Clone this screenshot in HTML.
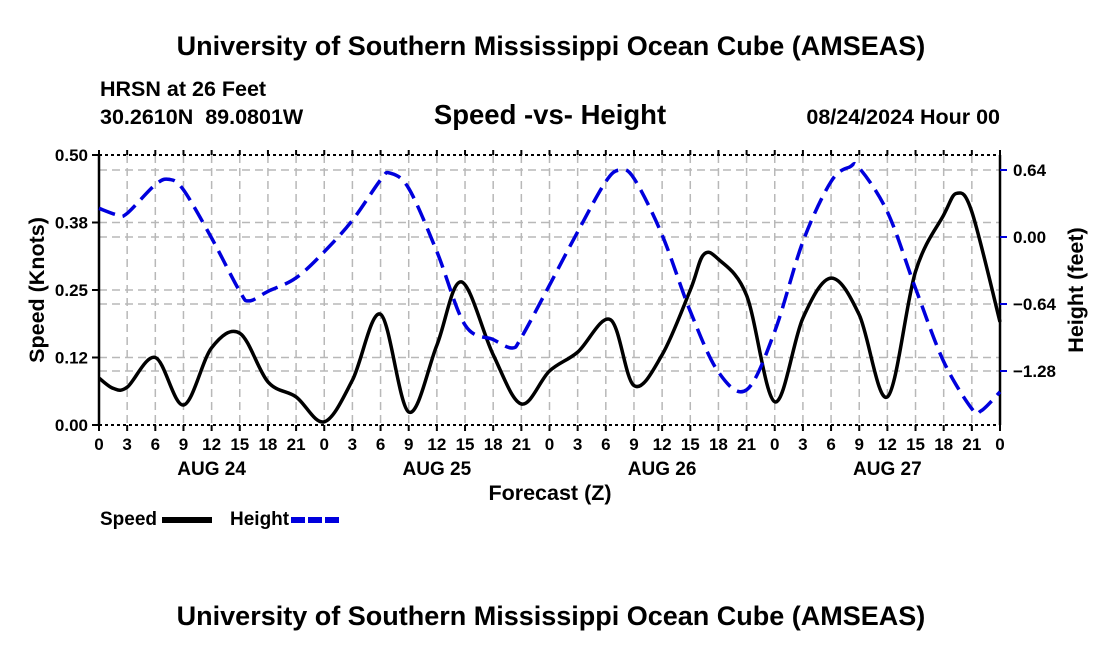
<!DOCTYPE html>
<html><head><meta charset="utf-8"><style>
html,body{margin:0;padding:0;background:#fff;}
svg{display:block;font-family:"Liberation Sans",Arial,sans-serif;font-weight:bold;}
</style></head><body>
<svg id="chart" width="1100" height="650" viewBox="0 0 1100 650" xmlns="http://www.w3.org/2000/svg">
<rect width="1100" height="650" fill="#fff"/>
<text x="551" y="55" font-size="27" text-anchor="middle">University of Southern Mississippi Ocean Cube (AMSEAS)</text>
<text x="100" y="96" font-size="21.5">HRSN at 26 Feet</text>
<text x="100" y="124" font-size="21.5">30.2610N&#160;&#160;89.0801W</text>
<text x="550" y="124" font-size="27.5" text-anchor="middle">Speed -vs- Height</text>
<text x="1000" y="124" font-size="21.5" text-anchor="end">08/24/2024 Hour 00</text>
<text transform="translate(44,290) rotate(-90)" font-size="21.5" text-anchor="middle">Speed (Knots)</text>
<text transform="translate(1083,290) rotate(-90)" font-size="21.5" text-anchor="middle">Height (feet)</text>
<text x="550" y="500" font-size="21.5" text-anchor="middle">Forecast (Z)</text>
<text x="551" y="625" font-size="27" text-anchor="middle">University of Southern Mississippi Ocean Cube (AMSEAS)</text>
<g>
<text x="100" y="525" font-size="19">Speed</text>
<line x1="162" y1="520" x2="212" y2="520" stroke="#000" stroke-width="6"/>
<text x="230" y="525" font-size="19">Height</text>
<line x1="291" y1="520" x2="342" y2="520" stroke="#0000dd" stroke-width="6" stroke-dasharray="14,3"/>
</g>
<g id="grid"></g><g id="axes"></g><g id="series"></g>
</svg>
<script>
const hours=[0,2,3,6,7.5,9,12,15,16,18,21,24,27,30,31,33,36,39,42,44,45,48,51,54,55.5,57,60,63,66,69,72,75,78,80,81,84,87,90,93,94,96];
const heightVals=[0.274,0.21,0.226,0.50,0.55,0.45,-0.01,-0.52,-0.61,-0.52,-0.39,-0.14,0.16,0.545,0.61,0.465,-0.14,-0.84,-0.98,-1.06,-0.96,-0.46,0.05,0.53,0.64,0.56,0.02,-0.71,-1.29,-1.46,-0.90,-0.045,0.53,0.67,0.66,0.24,-0.49,-1.19,-1.64,-1.66,-1.48];
const speedHours=[0,1.5,3,6,9,12,15,18,21,24,27,30,33,36,38.6,42,45,48,51,54.5,57,60,63,64.4,66,69,72,75,78,81,84,87,90,91.4,93,96];
const speedVals=[0.087,0.068,0.070,0.125,0.037,0.143,0.170,0.080,0.052,0.006,0.083,0.205,0.024,0.148,0.265,0.130,0.039,0.10,0.135,0.195,0.073,0.130,0.250,0.315,0.307,0.240,0.043,0.198,0.272,0.204,0.052,0.284,0.389,0.429,0.395,0.191];
const speedTicks=[0,0.125,0.25,0.375,0.5];
const speedTickLabels=["0.00","0.12","0.25","0.38","0.50"];
const heightTicks=[0.64,0,-0.64,-1.28];
const heightTickLabels=["0.64","0.00","\u22120.64","\u22121.28"];
const xTickHours=[0,3,6,9,12,15,18,21,24,27,30,33,36,39,42,45,48,51,54,57,60,63,66,69,72,75,78,81,84,87,90,93,96];
const dayLabels=["AUG 24","AUG 25","AUG 26","AUG 27"];

const X0=99,X1=1000,Y0=155,Y1=425;
const xs=h=>X0+h*(X1-X0)/96;
const ys=s=>Y1-s*(Y1-Y0)/0.5;
const yh=v=>237-v*(304-237)/0.64;
const NS="http://www.w3.org/2000/svg";
function mk(tag,attrs,parent){const e=document.createElementNS(NS,tag);for(const k in attrs)e.setAttribute(k,attrs[k]);parent.appendChild(e);return e;}
const grid=document.getElementById('grid'),axes=document.getElementById('axes'),series=document.getElementById('series');
const gs={stroke:"#b8b8b8","stroke-width":1.5,"stroke-dasharray":"8,5",fill:"none"};
xTickHours.forEach(h=>{if(h>0&&h<96){const l=mk('line',Object.assign({x1:xs(h),x2:xs(h),y1:Y0,y2:Y1},gs),grid);

}});
speedTicks.forEach(s=>{if(s>0&&s<0.5){const l=mk('line',Object.assign({x1:X0,x2:X1,y1:ys(s),y2:ys(s)},gs),grid);

}});
heightTicks.forEach(v=>{const l=mk('line',Object.assign({x1:X0,x2:X1,y1:yh(v),y2:yh(v)},gs),grid);

});
[[X0,Y0,X1,Y0],[X0,Y1,X1,Y1]].forEach(c=>{const l=mk('line',{x1:c[0],y1:c[1],x2:c[2],y2:c[3],stroke:"#000","stroke-width":2,"stroke-dasharray":"3,3"},axes);

});
let la=mk('line',{x1:X0,y1:Y0,x2:X0,y2:Y1,stroke:"#000","stroke-width":2.5},axes);


let ra=mk('line',{x1:X1,y1:Y0,x2:X1,y2:Y1,stroke:"#000","stroke-width":2.5},axes);


speedTicks.forEach((s,i)=>{mk('line',{x1:X0-7,x2:X0,y1:ys(s),y2:ys(s),stroke:"#000","stroke-width":2},axes);
const t=mk('text',{x:X0-11,y:ys(s)+6,"font-size":17,"text-anchor":"end"},axes);t.textContent=speedTickLabels[i];

});
heightTicks.forEach((v,i)=>{mk('line',{x1:X1,x2:X1+7,y1:yh(v),y2:yh(v),stroke:"#0000dd","stroke-width":2},axes);
const t=mk('text',{x:X1+13,y:yh(v)+6,"font-size":17},axes);t.textContent=heightTickLabels[i];

});
xTickHours.forEach(h=>{mk('line',{x1:xs(h),x2:xs(h),y1:Y1,y2:Y1+6,stroke:"#000","stroke-width":2},axes);mk('line',{x1:xs(h),x2:xs(h),y1:Y0,y2:Y0-5,stroke:"#000","stroke-width":2},axes);
const t=mk('text',{x:xs(h),y:450,"font-size":17,"text-anchor":"middle"},axes);t.textContent=String(h%24);

});
dayLabels.forEach((d,i)=>{const t=mk('text',{x:xs(i*24+12),y:475,"font-size":19,"text-anchor":"middle"},axes);t.textContent=d;

});
function spline(px,py){let d="M"+px[0].toFixed(1)+","+py[0].toFixed(1);
for(let i=0;i<px.length-1;i++){const i0=Math.max(0,i-1),i3=Math.min(px.length-1,i+2);
const c1x=px[i]+(px[i+1]-px[i0])/6,c1y=py[i]+(py[i+1]-py[i0])/6,c2x=px[i+1]-(px[i3]-px[i])/6,c2y=py[i+1]-(py[i3]-py[i])/6;
d+=" C"+c1x.toFixed(1)+","+c1y.toFixed(1)+" "+c2x.toFixed(1)+","+c2y.toFixed(1)+" "+px[i+1].toFixed(1)+","+py[i+1].toFixed(1);}return d;}
const sp=mk('path',{d:spline(speedHours.map(xs),speedVals.map(ys)),stroke:"#000","stroke-width":3.5,fill:"none"},series);


const hp=mk('path',{d:spline(hours.map(xs),heightVals.map(yh)),stroke:"#0000dd","stroke-width":3.5,fill:"none","stroke-dasharray":"17,8"},series);


</script>
</body></html>
